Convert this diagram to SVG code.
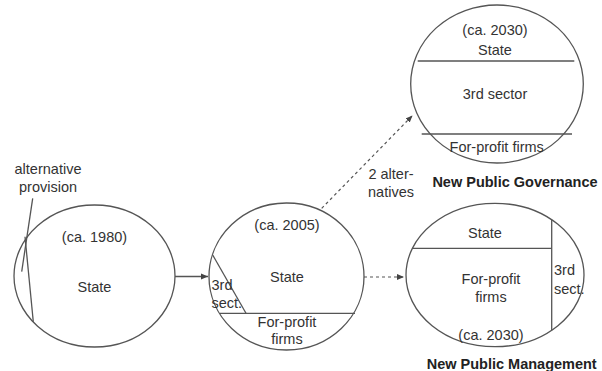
<svg xmlns="http://www.w3.org/2000/svg" width="602" height="371" viewBox="0 0 602 371">
<style>
.c{fill:#fff;stroke:#555;stroke-width:1.3}
.l{stroke:#555;stroke-width:1.3;fill:none}
.d{stroke:#555;stroke-width:1.2;fill:none;stroke-dasharray:3 3}
text{font-family:"Liberation Sans",Arial,sans-serif;font-size:14.5px;fill:#333}
.m{text-anchor:middle}
.b{font-weight:bold;fill:#222}
</style>
<defs>
<marker id="ah" markerWidth="8" markerHeight="8" refX="7" refY="4" orient="auto" markerUnits="userSpaceOnUse">
<path d="M0,1 L7,4 L0,7 Z" fill="#444"/>
</marker>
</defs>
<rect width="602" height="371" fill="#fff"/>
<g id="connectors">
<line class="l" x1="175" y1="276.5" x2="208" y2="276.5" marker-end="url(#ah)"/>
<line class="d" x1="364" y1="277" x2="404" y2="277" marker-end="url(#ah)"/>
<line class="d" x1="321.7" y1="208.3" x2="412.5" y2="115.5" marker-end="url(#ah)"/>
<text class="m" x="391" y="179">2 alter-</text>
<text class="m" x="391" y="197">natives</text>
</g>
<g id="node-1980">
<ellipse class="c" cx="94.5" cy="276" rx="80.5" ry="71"/>
<line class="l" x1="25" y1="236.7" x2="33.3" y2="321.7"/>
<line class="l" x1="32.7" y1="198.3" x2="21.7" y2="271.7"/>
<text class="m" x="48" y="174">alternative</text>
<text class="m" x="48" y="192">provision</text>
<text class="m" x="94.5" y="242">(ca. 1980)</text>
<text class="m" x="94.5" y="292">State</text>
</g>
<g id="node-2005">
<ellipse class="c" cx="286.5" cy="276.5" rx="77.5" ry="73.5"/>
<line class="l" x1="212.7" y1="255" x2="246" y2="313.3"/>
<line class="l" x1="220" y1="313.3" x2="355" y2="313.3"/>
<text class="m" x="287" y="230">(ca. 2005)</text>
<text class="m" x="287" y="282">State</text>
<text x="211.5" y="290">3rd</text>
<text x="211.5" y="308">sect.</text>
<text class="m" x="287" y="326.5">For-profit</text>
<text class="m" x="287" y="344">firms</text>
</g>
<g id="node-npg">
<ellipse class="c" cx="497" cy="84" rx="86.3" ry="79"/>
<line class="l" x1="417.7" y1="61" x2="574.3" y2="61"/>
<line class="l" x1="421.7" y1="134" x2="572" y2="134"/>
<text class="m" x="495" y="34.5">(ca. 2030)</text>
<text class="m" x="495" y="54.5">State</text>
<text class="m" x="495" y="98.5">3rd sector</text>
<text class="m" x="496.7" y="152">For-profit firms</text>
<text class="m b" x="515" y="187">New Public Governance</text>
</g>
<g id="node-npm">
<ellipse class="c" cx="495" cy="275" rx="89" ry="71.7"/>
<line class="l" x1="412.3" y1="248.3" x2="551.7" y2="248.3"/>
<line class="l" x1="551.7" y1="219.8" x2="551.7" y2="330.2"/>
<text class="m" x="485" y="237.5">State</text>
<text class="m" x="491" y="283.5">For-profit</text>
<text class="m" x="491" y="302">firms</text>
<text x="554" y="275">3rd</text>
<text x="554" y="293.5">sect.</text>
<text class="m" x="491" y="340">(ca. 2030)</text>
<text class="m b" x="511.7" y="368.5">New Public Management</text>
</g>
</svg>
